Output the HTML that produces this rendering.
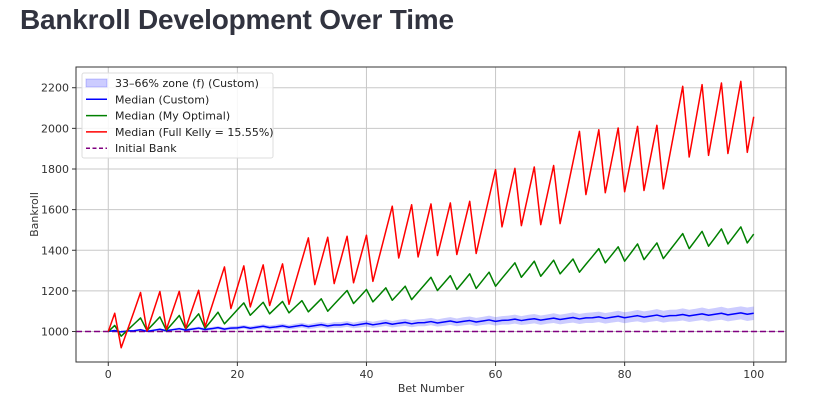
<!DOCTYPE html>
<html><head><meta charset="utf-8">
<style>
body{margin:0;background:#fff;width:815px;height:408px;overflow:hidden;}
h1{position:absolute;left:20px;top:4px;margin:0;font:bold 28px "Liberation Sans",sans-serif;color:#31333f;letter-spacing:-0.2px;}
svg{position:absolute;left:0;top:0;}
text{font-family:"DejaVu Sans","Liberation Sans",sans-serif;}
</style></head><body>
<h1>Bankroll Development Over Time</h1>
<svg id="chart" width="815" height="408"></svg>
<script>
const bets = Array.from({length:101},(_,i)=>i);
const kellyMedian=[1000,1090,920,1010,1100,1192,1002,1100,1197,1010,1104,1198,1016,1110,1203,1023,1120,1219,1318,1113,1218,1323,1121,1225,1328,1128,1230,1333,1134,1243,1352,1461,1231,1348,1464,1236,1352,1469,1240,1357,1474,1247,1370,1494,1617,1362,1493,1624,1367,1497,1628,1374,1503,1633,1379,1510,1641,1384,1522,1660,1797,1515,1659,1803,1521,1665,1810,1526,1671,1817,1531,1682,1834,1985,1674,1834,1993,1683,1843,2002,1688,1849,2010,1694,1855,2015,1702,1870,2039,2207,1859,2037,2215,1867,2045,2223,1876,2053,2231,1882,2057];
const optimalMedian=[1000,1030,977,1007,1037,1067,1005,1038,1072,1006,1042,1079,1013,1050,1087,1016,1055,1095,1038,1072,1107,1141,1080,1112,1144,1087,1118,1148,1092,1122,1152,1097,1129,1161,1100,1134,1168,1202,1138,1172,1207,1146,1180,1215,1154,1188,1223,1157,1194,1230,1267,1202,1238,1275,1207,1245,1284,1212,1252,1292,1223,1262,1300,1338,1267,1306,1346,1272,1311,1351,1284,1320,1357,1292,1331,1369,1408,1338,1377,1417,1346,1388,1431,1354,1395,1436,1359,1400,1441,1482,1408,1450,1493,1420,1462,1505,1431,1473,1515,1436,1480];
const customMedian=[1000,1005,998,1003,1004,1009,1001,1006,1011,1004,1009,1014,1007,1012,1017,1010,1014,1019,1012,1017,1018,1023,1016,1021,1026,1019,1023,1028,1021,1026,1031,1024,1029,1034,1027,1032,1032,1037,1030,1035,1040,1033,1038,1043,1036,1041,1045,1038,1043,1044,1049,1042,1047,1052,1045,1050,1054,1047,1052,1057,1050,1055,1056,1061,1054,1059,1063,1056,1061,1066,1059,1064,1069,1062,1067,1068,1072,1065,1070,1075,1068,1073,1078,1071,1076,1081,1073,1078,1079,1084,1077,1082,1087,1080,1085,1090,1082,1087,1092,1085,1090];
const zoneSpread=[0,3,4,4,4,5,5,5,5,6,6,6,7,7,7,8,8,8,8,9,9,9,10,10,10,11,11,11,11,12,12,12,13,13,13,14,14,14,14,15,15,15,16,16,16,17,17,17,17,18,18,18,19,19,19,20,20,20,20,21,21,21,22,22,22,23,23,23,23,24,24,24,25,25,25,26,26,26,26,27,27,27,28,28,28,29,29,29,29,30,30,30,31,31,31,32,32,32,32,33,33];
const initialBank=1000;
const xTicks=[0,20,40,60,80,100];
const yTicks=[1000,1200,1400,1600,1800,2000,2200];

const NS="http://www.w3.org/2000/svg";
const svg=document.getElementById('chart');
const L=76,R=786,T=67,B=362;
const xMin=-5,xMax=105,yMin=850,yMax=2302;
const X=v=>L+(v-xMin)/(xMax-xMin)*(R-L);
const Y=v=>B-(v-yMin)/(yMax-yMin)*(B-T);
function mk(tag,attrs,parent){const e=document.createElementNS(NS,tag);for(const k in attrs)e.setAttribute(k,attrs[k]);(parent||svg).appendChild(e);return e;}

// grid
xTicks.forEach(t=>{
  const g=mk('line',{x1:X(t),x2:X(t),y1:T,y2:B,stroke:'#c8c8c8','stroke-width':1});
  
  
  const tk=mk('line',{x1:X(t),x2:X(t),y1:B,y2:B+4,stroke:'#333','stroke-width':1});
  
  
  const lb=mk('text',{x:X(t),y:B+16,'text-anchor':'middle','font-size':11,fill:'#333'});
  lb.textContent=t;
  
  
});
yTicks.forEach(t=>{
  const g=mk('line',{x1:L,x2:R,y1:Y(t),y2:Y(t),stroke:'#c8c8c8','stroke-width':1});
  
  
  const tk=mk('line',{x1:L-4,x2:L,y1:Y(t),y2:Y(t),stroke:'#333','stroke-width':1});
  
  
  const lb=mk('text',{x:L-7,y:Y(t)+4,'text-anchor':'end','font-size':11,fill:'#333'});
  lb.textContent=t;
  
  
});

// band
let up=bets.map((b,i)=>X(b)+','+Y(customMedian[i]+zoneSpread[i]));
let lo=bets.map((b,i)=>X(b)+','+Y(customMedian[i]-zoneSpread[i])).reverse();
const band=mk('polygon',{points:up.concat(lo).join(' '),fill:'#0000ff','fill-opacity':0.2,stroke:'none'});



// initial bank
const ib=mk('line',{x1:L,x2:R,y1:Y(initialBank),y2:Y(initialBank),stroke:'#800080','stroke-width':1.5,'stroke-dasharray':'6,3'});



function series(vals,color,name){
  const p=mk('polyline',{points:bets.map((b,i)=>X(b)+','+Y(vals[i])).join(' '),fill:'none',stroke:color,'stroke-width':1.5,'stroke-linejoin':'round'});
  
  
}
series(customMedian,'#0000ff','median-custom-line');
series(optimalMedian,'#008000','median-optimal-line');
series(kellyMedian,'#ff0000','median-full-kelly-line');

// frame
const fr=mk('rect',{x:L,y:T,width:R-L,height:B-T,fill:'none',stroke:'#333','stroke-width':1});



// axis labels
const xl=mk('text',{x:(L+R)/2,y:392,'text-anchor':'middle','font-size':11,fill:'#333'});
xl.textContent='Bet Number';


const yl=mk('text',{x:0,y:0,'text-anchor':'middle','font-size':11,fill:'#333',transform:'translate(38,'+((T+B)/2)+') rotate(-90)'});
yl.textContent='Bankroll';



// legend
const lg=mk('g',{});


const lbx=mk('rect',{x:82,y:73,width:191,height:85,rx:2,fill:'#fff','fill-opacity':0.85,stroke:'#ddd'},lg);


const entries=[['33–66% zone (f) (Custom)','band','#0000ff'],['Median (Custom)','line','#0000ff'],['Median (My Optimal)','line','#008000'],['Median (Full Kelly = 15.55%)','line','#ff0000'],['Initial Bank','dash','#800080']];
entries.forEach((e,i)=>{
  const y=83+i*16.3;
  let m;
  if(e[1]==='band') m=mk('rect',{x:86,y:y-4,width:21,height:8,fill:e[2],'fill-opacity':0.2,stroke:e[2],'stroke-opacity':0.2},lg);
  else m=mk('line',{x1:86,x2:107,y1:y,y2:y,stroke:e[2],'stroke-width':1.5,'stroke-dasharray':e[1]==='dash'?'4,2.5':'none'},lg);
  
  
  const t=mk('text',{x:115,y:y+4,'font-size':11,fill:'#222'},lg);
  t.textContent=e[0];
  
  
});
</script>
</body></html>
